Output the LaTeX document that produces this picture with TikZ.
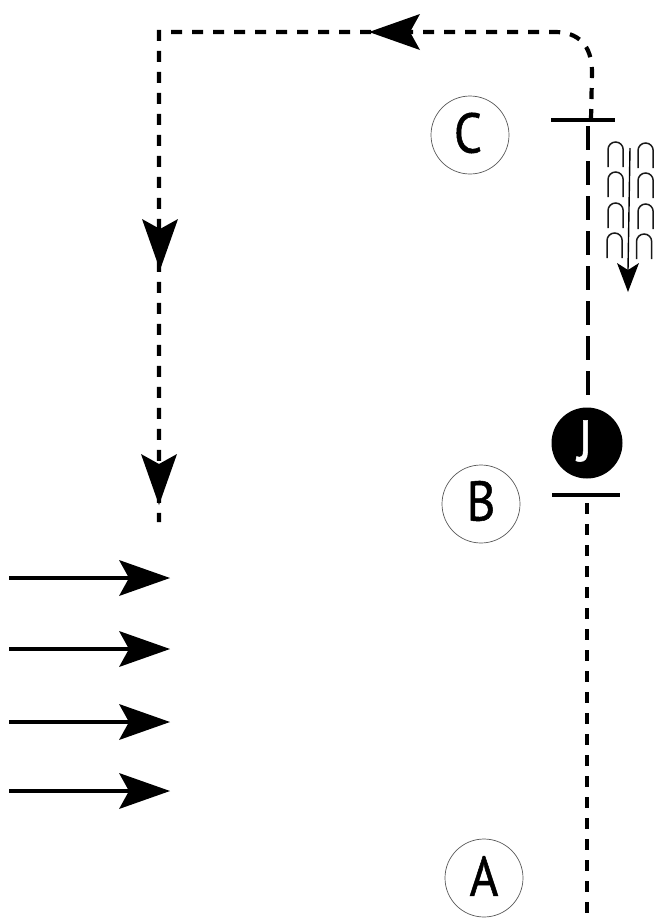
\documentclass[tikz,border=0pt]{standalone}
\usepackage{fontspec}
\setmainfont{PT Sans}
\newfontfamily\labfont[FakeBold=0.9,FakeStretch=0.88]{PT Sans}
\usetikzlibrary{calc}
\tikzset{
  labelcircle/.style={circle,draw=black!65,line width=0.7pt,fill=white,minimum size=78pt,inner sep=0pt},
  blackcircle/.style={circle,fill=black,minimum size=71pt,inner sep=0pt},
  labeltext/.style={inner sep=0pt,font=\labfont\fontsize{56}{56}\selectfont},
  whitetext/.style={inner sep=0pt,text=white,font=\labfont\fontsize{58}{58}\selectfont},
  shortdash/.style={line width=4.2pt,dash pattern=on 11pt off 10pt},
  longdash/.style={line width=4.2pt,dash pattern=on 24pt off 11pt},
  bar/.style={line width=3.6pt},
  shaft/.style={line width=3.6pt},
  thin shaft/.style={line width=1.4pt},
  arch/.style={line width=1.5pt,black!90},
  head/.pic={\fill[black] (0,0) -- (-51,-18) -- (-41,0) -- (-51,18) -- cycle;},
  smallhead/.pic={\fill[black] (0,0) -- (-29,-11) -- (-22,0) -- (-29,11) -- cycle;},
  archpic/.pic={\draw[arch] (0,25) -- (0,7.6) arc[start angle=180,end angle=360,radius=7.6] -- (15.2,25);}
}
\begin{document}
\begin{tikzpicture}[x=1pt,y=-1pt]
\useasboundingbox (0,0) rectangle (660,922);
% coordinates
\coordinate (leftend) at (159,522);
\coordinate (corner) at (159,32);
\coordinate (bend) at (555,32);
\coordinate (topbar) at (591,120);
\coordinate (jtop) at (588,397);
\coordinate (longtop) at (588,126);
\coordinate (cbarL) at (551,120);
\coordinate (cbarR) at (615,120);
\coordinate (bbarL) at (552,495);
\coordinate (bbarR) at (620,495);
\coordinate (lowtop) at (587,503);
\coordinate (lowend) at (587,922);
\coordinate (flowtop) at (630,148);
\coordinate (flowneck) at (628,270);
\coordinate (flowtip) at (628,292);
% dashed route
\draw[shortdash] (topbar) -- (592,72) .. controls (592,45) and (578,32) .. (bend) -- (corner) -- (leftend);
\draw[longdash] (longtop) -- (jtop);
\draw[shortdash] (lowtop) -- (lowend);
% bars
\draw[bar] (cbarL) -- (cbarR);
\draw[bar] (bbarL) -- (bbarR);
% circles
\node[labelcircle] (C) at (470,135) {};
\node[labeltext] (Ctext) at (468,133) {C};
\node[labelcircle] (B) at (481,504) {};
\node[labeltext] (Btext) at (481,501) {B};
\node[labelcircle] (A) at (484,878) {};
\node[labeltext] (Atext) at (484,876) {A};
\node[blackcircle] (J) at (587,443) {};
\node[whitetext] (Jtext) at (585,441) {J};
% arrowheads on the route
\pic[rotate=180] at (369,32) {head};
\pic[rotate=-90] at (160,270) {head};
\pic[rotate=-90] at (159,505) {head};
% horizontal arrows
\foreach \n/\y in {a/578,b/649,c/722,d/791}{
  \coordinate (\n0) at (9,\y);
  \coordinate (\n1) at (130,\y);
  \draw[shaft] (\n0) -- (\n1);
  \pic at (170,\y) {head};
}
% flow arrow
\draw[thin shaft] (flowtop) -- (flowneck);
\pic[rotate=-90] at (flowtip) {smallhead};
% arches
\foreach \x/\y in {608/142,608/172,608/203,607/233,638/143,638/173,638/204,636.5/234}{
  \pic at (\x,\y) {archpic};
}
\end{tikzpicture}
\end{document}
